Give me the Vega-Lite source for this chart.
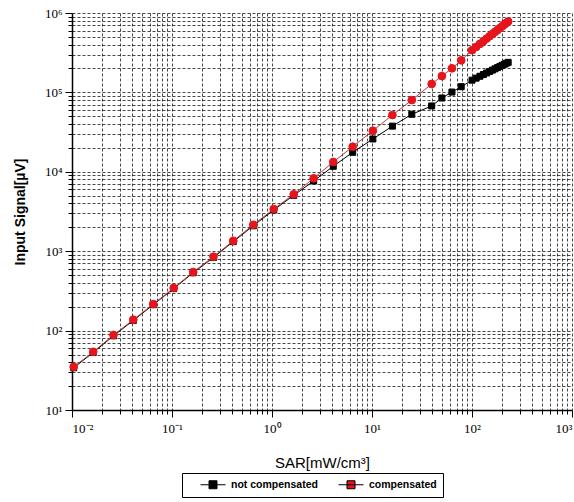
{
  "$schema": "https://vega.github.io/schema/vega-lite/v6.json",
  "autosize": "none",
  "padding": {"left": 72, "top": 13, "right": 2, "bottom": 92},
  "width": 500,
  "height": 397,
  "background": "white",
  "config": {
    "view": {"stroke": null},
    "axis": {
      "domainColor": "black",
      "domainWidth": 1.5,
      "tickColor": "black",
      "tickWidth": 1,
      "gridColor": "black",
      "gridDash": [3, 2],
      "gridWidth": 0.8,
      "gridOpacity": 0.9,
      "labelFont": "Liberation Serif",
      "labelFontSize": 13,
      "labelColor": "black",
      "titleColor": "black",
      "titleFont": "Liberation Sans"
    }
  },
  "data": {
    "values": [
      {"sar": 0.0104, "signal": 34, "series": "not compensated"},
      {"sar": 0.0163, "signal": 53, "series": "not compensated"},
      {"sar": 0.026, "signal": 86, "series": "not compensated"},
      {"sar": 0.041, "signal": 134, "series": "not compensated"},
      {"sar": 0.065, "signal": 212, "series": "not compensated"},
      {"sar": 0.104, "signal": 338, "series": "not compensated"},
      {"sar": 0.163, "signal": 535, "series": "not compensated"},
      {"sar": 0.26, "signal": 835, "series": "not compensated"},
      {"sar": 0.41, "signal": 1320, "series": "not compensated"},
      {"sar": 0.65, "signal": 2090, "series": "not compensated"},
      {"sar": 1.04, "signal": 3300, "series": "not compensated"},
      {"sar": 1.65, "signal": 5050, "series": "not compensated"},
      {"sar": 2.61, "signal": 7660, "series": "not compensated"},
      {"sar": 4.1, "signal": 11730, "series": "not compensated"},
      {"sar": 6.41, "signal": 17600, "series": "not compensated"},
      {"sar": 10.2, "signal": 25900, "series": "not compensated"},
      {"sar": 16, "signal": 37600, "series": "not compensated"},
      {"sar": 25, "signal": 53000, "series": "not compensated"},
      {"sar": 39.5, "signal": 67500, "series": "not compensated"},
      {"sar": 50, "signal": 85000, "series": "not compensated"},
      {"sar": 63, "signal": 101000, "series": "not compensated"},
      {"sar": 78, "signal": 118000, "series": "not compensated"},
      {"sar": 100, "signal": 142600, "series": "not compensated"},
      {"sar": 110, "signal": 151200, "series": "not compensated"},
      {"sar": 120, "signal": 159600, "series": "not compensated"},
      {"sar": 130, "signal": 167700, "series": "not compensated"},
      {"sar": 140, "signal": 175600, "series": "not compensated"},
      {"sar": 150, "signal": 183300, "series": "not compensated"},
      {"sar": 160, "signal": 190800, "series": "not compensated"},
      {"sar": 170, "signal": 198100, "series": "not compensated"},
      {"sar": 180, "signal": 205200, "series": "not compensated"},
      {"sar": 190, "signal": 212200, "series": "not compensated"},
      {"sar": 200, "signal": 219100, "series": "not compensated"},
      {"sar": 210, "signal": 225800, "series": "not compensated"},
      {"sar": 220, "signal": 232500, "series": "not compensated"},
      {"sar": 230, "signal": 239000, "series": "not compensated"},
      {"sar": 0.0104, "signal": 35, "series": "compensated"},
      {"sar": 0.0163, "signal": 54, "series": "compensated"},
      {"sar": 0.026, "signal": 88, "series": "compensated"},
      {"sar": 0.041, "signal": 137, "series": "compensated"},
      {"sar": 0.065, "signal": 216, "series": "compensated"},
      {"sar": 0.104, "signal": 344, "series": "compensated"},
      {"sar": 0.163, "signal": 547, "series": "compensated"},
      {"sar": 0.26, "signal": 853, "series": "compensated"},
      {"sar": 0.41, "signal": 1350, "series": "compensated"},
      {"sar": 0.65, "signal": 2150, "series": "compensated"},
      {"sar": 1.04, "signal": 3400, "series": "compensated"},
      {"sar": 1.65, "signal": 5210, "series": "compensated"},
      {"sar": 2.61, "signal": 8280, "series": "compensated"},
      {"sar": 4.1, "signal": 13300, "series": "compensated"},
      {"sar": 6.41, "signal": 20700, "series": "compensated"},
      {"sar": 10.2, "signal": 32900, "series": "compensated"},
      {"sar": 16, "signal": 51900, "series": "compensated"},
      {"sar": 25, "signal": 80000, "series": "compensated"},
      {"sar": 39.5, "signal": 127600, "series": "compensated"},
      {"sar": 50, "signal": 160700, "series": "compensated"},
      {"sar": 63, "signal": 201000, "series": "compensated"},
      {"sar": 78, "signal": 253500, "series": "compensated"},
      {"sar": 100, "signal": 340000, "series": "compensated"},
      {"sar": 110, "signal": 374000, "series": "compensated"},
      {"sar": 120, "signal": 408000, "series": "compensated"},
      {"sar": 130, "signal": 442000, "series": "compensated"},
      {"sar": 140, "signal": 476000, "series": "compensated"},
      {"sar": 150, "signal": 510000, "series": "compensated"},
      {"sar": 160, "signal": 544000, "series": "compensated"},
      {"sar": 170, "signal": 578000, "series": "compensated"},
      {"sar": 180, "signal": 612000, "series": "compensated"},
      {"sar": 190, "signal": 646000, "series": "compensated"},
      {"sar": 200, "signal": 680000, "series": "compensated"},
      {"sar": 210, "signal": 714000, "series": "compensated"},
      {"sar": 220, "signal": 748000, "series": "compensated"},
      {"sar": 230, "signal": 782000, "series": "compensated"}
    ]
  },
  "encoding": {
    "x": {
      "field": "sar",
      "type": "quantitative",
      "scale": {"type": "log", "domain": [0.01, 1000], "nice": false},
      "axis": {
        "title": "SAR[mW/cm³]",
        "titleFontSize": 15,
        "titleFontWeight": "normal",
        "titlePadding": 20,
        "values": [0.01,0.02,0.03,0.04,0.05,0.06,0.07,0.08,0.09,0.1,0.2,0.3,0.4,0.5,0.6,0.7,0.8,0.9,1,2,3,4,5,6,7,8,9,10,20,30,40,50,60,70,80,90,100,200,300,400,500,600,700,800,900,1000],
        "labelExpr": "datum.value == 0.01 ? '10⁻²' : datum.value == 0.1 ? '10⁻¹' : datum.value == 1 ? '10⁰' : datum.value == 10 ? '10¹' : datum.value == 100 ? '10²' : datum.value == 1000 ? '10³' : ''",
        "labelPadding": 5,
        "labelOverlap": false,
        "tickSize": {"condition": {"test": "datum.value == 0.01 || datum.value == 0.1 || datum.value == 1 || datum.value == 10 || datum.value == 100 || datum.value == 1000", "value": 7}, "value": 4}
      }
    },
    "y": {
      "field": "signal",
      "type": "quantitative",
      "scale": {"type": "log", "domain": [10, 1000000], "nice": false},
      "axis": {
        "title": "Input Signal[µV]",
        "titleFontSize": 14,
        "titleFontWeight": "bold",
        "titlePadding": 17,
        "values": [10,20,30,40,50,60,70,80,90,100,200,300,400,500,600,700,800,900,1000,2000,3000,4000,5000,6000,7000,8000,9000,10000,20000,30000,40000,50000,60000,70000,80000,90000,100000,200000,300000,400000,500000,600000,700000,800000,900000,1000000],
        "labelExpr": "datum.value == 10 ? '10¹' : datum.value == 100 ? '10²' : datum.value == 1000 ? '10³' : datum.value == 10000 ? '10⁴' : datum.value == 100000 ? '10⁵' : datum.value == 1000000 ? '10⁶' : ''",
        "labelPadding": 3,
        "labelOverlap": false,
        "tickSize": {"condition": {"test": "datum.value == 10 || datum.value == 100 || datum.value == 1000 || datum.value == 10000 || datum.value == 100000 || datum.value == 1000000", "value": 7}, "value": 4}
      }
    }
  },
  "layer": [
    {
      "mark": {"type": "line", "strokeWidth": 1},
      "encoding": {
        "detail": {"field": "series", "type": "nominal"},
        "stroke": {"condition": {"test": "datum.series == 'compensated'", "value": "#b83a3a"}, "value": "black"}
      }
    },
    {
      "mark": {"type": "point", "filled": true, "opacity": 1, "strokeWidth": 1},
      "encoding": {
        "color": {
          "field": "series",
          "type": "nominal",
          "scale": {"domain": ["not compensated", "compensated"], "range": ["black", "#e8141c"]},
          "legend": {
            "title": null,
            "orient": "none",
            "legendX": 110,
            "legendY": 460,
            "direction": "horizontal",
            "strokeColor": "black",
            "fillColor": "white",
            "padding": 6,
            "symbolSize": 100,
            "symbolStrokeWidth": 1,
            "labelOffset": 32,
            "columnPadding": 8,
            "labelFont": "Liberation Sans",
            "labelFontSize": 10.5,
            "labelFontWeight": "bold",
            "labelColor": "black"
          }
        },
        "stroke": {"condition": {"test": "datum.series == 'compensated' || datum.value == 'compensated'", "value": "#e8141c"}, "value": "black"},
        "shape": {"condition": [
          {"test": "datum.series == 'compensated'", "value": "circle"},
          {"test": "datum.series == 'not compensated'", "value": "square"}
        ], "value": "M1.4,0H6.4M3.1,-0.8H4.7V0.8H3.1Z"},
        "size": {"condition": {"test": "datum.series == 'compensated'", "value": 60}, "value": 36}
      }
    }
  ]
}
